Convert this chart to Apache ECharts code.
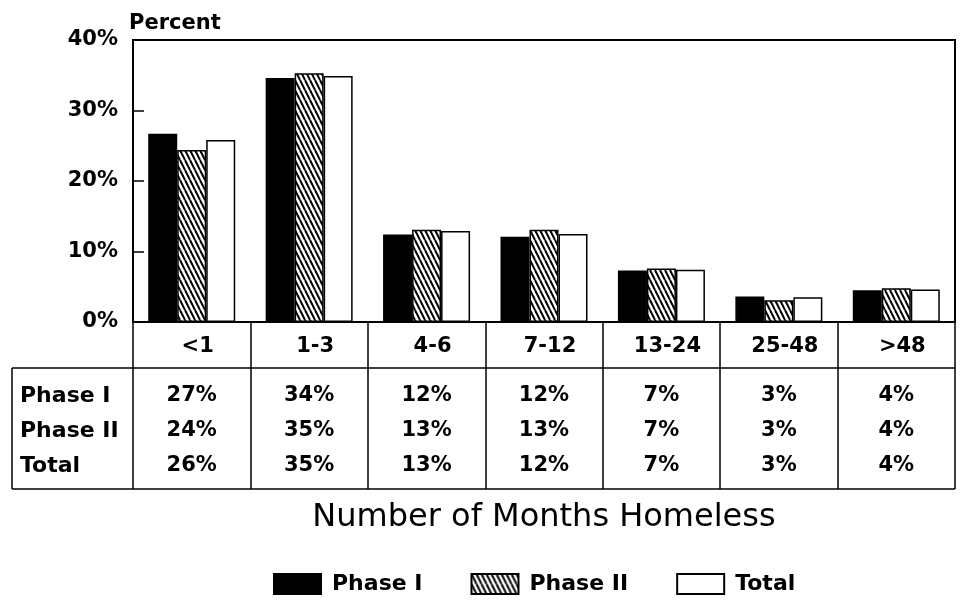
<!DOCTYPE html>
<html>
<head>
<meta charset="utf-8">
<script src="https://cdn.jsdelivr.net/npm/echarts@6/dist/echarts.min.js"></script>
<style>
  html, body { margin: 0; padding: 0; background: #fff; }
  #main { width: 963px; height: 603px; }
</style>
</head>
<body>
<div id="main"></div>
<script>
// months homeless categories
const categories = ["<1", "1-3", "4-6", "7-12", "13-24", "25-48", ">48"];
// bar heights (percent)
const phase1 = [26.7, 34.6, 12.4, 12.1, 7.3, 3.6, 4.5];
const phase2 = [24.4, 35.3, 13.1, 13.1, 7.6, 3.1, 4.8];
const total = [25.8, 34.9, 12.9, 12.5, 7.4, 3.5, 4.6];
// printed table values
const tablePhase1 = [27, 34, 12, 12, 7, 3, 4];
const tablePhase2 = [24, 35, 13, 13, 7, 3, 4];
const tableTotal = [26, 35, 13, 12, 7, 3, 4];
const rowLabels = ["Phase I", "Phase II", "Total"];

const FONT = "DejaVu Sans";

// hatch pattern for Phase II
function makeHatch() {
  const c = document.createElement("canvas");
  c.width = 5;
  c.height = 10;
  const ctx = c.getContext("2d");
  ctx.fillStyle = "#fff";
  ctx.fillRect(0, 0, 5, 10);
  ctx.strokeStyle = "#000";
  ctx.lineWidth = 2;
  [-5, 0, 5].forEach(function (k) {
    ctx.beginPath();
    ctx.moveTo(k, 0);
    ctx.lineTo(k + 5, 10);
    ctx.stroke();
  });
  return c;
}
const hatch = { image: makeHatch(), repeat: "repeat" };

// one extra hidden axis per table row, labels only
function tableAxis(values, margin) {
  return {
    type: "category",
    data: categories,
    position: "bottom",
    axisLine: { show: false },
    axisTick: { show: false },
    axisLabel: {
      interval: 0,
      margin: margin,
      verticalAlign: "middle",
      color: "#000",
      fontFamily: FONT,
      fontWeight: "bold",
      fontSize: 21,
      formatter: function (v, i) {
        return values[i] + "%";
      },
    },
  };
}

function barSeries(name, data, color) {
  return {
    name: name,
    type: "bar",
    data: data,
    barWidth: 29,
    barGap: "0%",
    itemStyle: { color: color, borderColor: "#000", borderWidth: 1.5 },
  };
}

const option = {
  backgroundColor: "#fff",
  animation: false,
  title: {
    text: "Percent",
    left: 124,
    top: 8,
    textStyle: { fontFamily: FONT, fontWeight: "bold", fontSize: 21, color: "#000" },
  },
  grid: {
    left: 133,
    right: 8,
    top: 40,
    bottom: 281,
    show: true,
    borderColor: "#000",
    borderWidth: 2,
  },
  legend: {
    left: 273,
    top: 573,
    padding: 0,
    icon: "rect",
    itemWidth: 47,
    itemHeight: 20,
    itemGap: 48,
    textStyle: {
      fontFamily: FONT,
      fontWeight: "bold",
      fontSize: 22,
      color: "#000",
      padding: [0, 0, 0, 6],
    },
    data: ["Phase I", "Phase II", "Total"],
  },
  xAxis: [
    {
      type: "category",
      data: categories,
      name: "Number of Months Homeless",
      nameLocation: "middle",
      nameGap: 180,
      nameTextStyle: { fontFamily: FONT, fontSize: 32, color: "#000" },
      axisLine: { show: true, lineStyle: { color: "#000", width: 2 } },
      axisTick: { show: true, interval: 0, inside: false, length: 167, lineStyle: { color: "#000", width: 1.5 } },
      axisLabel: {
        interval: 0,
        margin: 25,
        verticalAlign: "middle",
        padding: [0, 0, 0, 12],
        color: "#000",
        fontFamily: FONT,
        fontWeight: "bold",
        fontSize: 21,
      },
    },
    tableAxis(tablePhase1, 74),
    tableAxis(tablePhase2, 109),
    tableAxis(tableTotal, 144),
  ],
  yAxis: {
    type: "value",
    min: 0,
    max: 40,
    interval: 10,
    axisLine: { show: true, lineStyle: { color: "#000", width: 2 } },
    axisTick: { show: true, inside: true, length: 11, lineStyle: { color: "#000", width: 1.5 } },
    splitLine: { show: false },
    axisLabel: {
      margin: 15,
      padding: [6, 0, 0, 0],
      color: "#000",
      fontFamily: FONT,
      fontWeight: "bold",
      fontSize: 21,
      formatter: "{value}%",
    },
  },
  graphic: [
    // table borders
    { type: "line", shape: { x1: 12, y1: 368, x2: 955, y2: 368 }, style: { stroke: "#000", lineWidth: 1.5 } },
    { type: "line", shape: { x1: 12, y1: 489, x2: 955, y2: 489 }, style: { stroke: "#000", lineWidth: 1.5 } },
    { type: "line", shape: { x1: 12, y1: 368, x2: 12, y2: 489 }, style: { stroke: "#000", lineWidth: 1.5 } },
  ].concat(
    rowLabels.map(function (label, i) {
      return {
        type: "text",
        left: 20,
        top: 385 + i * 35,
        style: {
          text: label,
          fill: "#000",
          font: "bold 22px " + FONT,
        },
      };
    })
  ),
  series: [
    barSeries("Phase I", phase1, "#000"),
    barSeries("Phase II", phase2, hatch),
    barSeries("Total", total, "#fff"),
  ],
};

const chart = echarts.init(document.getElementById("main"));
chart.setOption(option);
</script>
</body>
</html>
